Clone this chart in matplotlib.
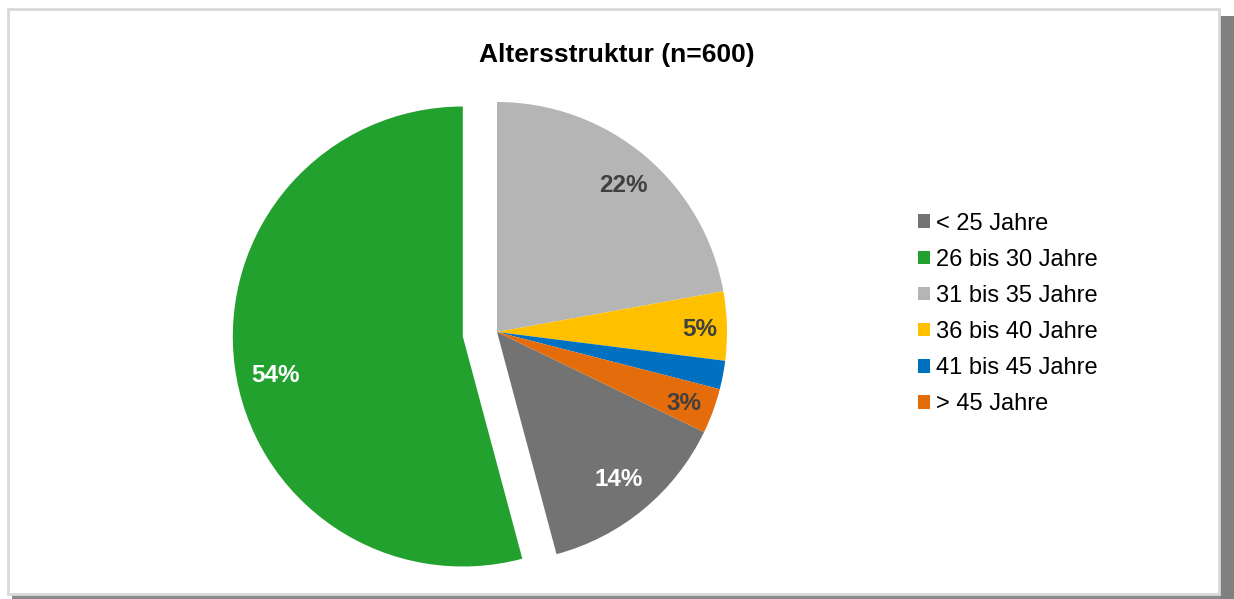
# -*- coding: utf-8 -*-
# Altersstruktur (n=600) - Kreisdiagramm

import numpy as np
import matplotlib.pyplot as plt
from matplotlib.patches import Rectangle, Patch

plt.rcParams['font.family'] = ['Liberation Sans', 'DejaVu Sans']

# Daten (Anzahl Personen, n=600)
labels = ["< 25 Jahre", "26 bis 30 Jahre", "31 bis 35 Jahre",
          "36 bis 40 Jahre", "41 bis 45 Jahre", "> 45 Jahre"]
counts = [82, 325, 133, 29, 12, 19]
colors = ["#737373", "#23A12F", "#B5B5B5", "#FFC000", "#0070C0", "#E46C0A"]
explode = [0, 0.15, 0, 0, 0, 0]

# Beschriftung: Textfarbe, Abstand vom Mittelpunkt (Anteil am Radius), Winkelversatz
text_colors = ["white", "white", "#404040", "#404040", None, "#404040"]
label_r = [0.83, 0.83, 0.84, 0.88, 0.0, 0.87]
label_dang = [0, 4.3, -0.8, -0.8, 0, -0.8]

W, H = 1234, 599
fig = plt.figure(figsize=(W / 100, H / 100), dpi=100)

# Rahmen mit Schatten
fig.patches.append(Rectangle((12 / W, 0), 1 - 12 / W, 5 / H, transform=fig.transFigure,
                             facecolor="#8a8a8a", edgecolor="none", zorder=0))
fig.patches.append(Rectangle((1220 / W, 0), 14 / W, 1 - 16 / H, transform=fig.transFigure,
                             facecolor="#808080", edgecolor="none", zorder=0))
fig.patches.append(Rectangle((8 / W, 1 - 594 / H), 1211 / W, 585 / H, transform=fig.transFigure,
                             facecolor="white", edgecolor="#d9d9d9", linewidth=2, zorder=1))

# Achse so, dass Kreismitte bei (497, 332) px, Radius 230 px
ax = fig.add_axes([0, 0, 1, 1])
ax.set_zorder(2)
ax.patch.set_alpha(0)
cx, cy, R = 497, 332, 230

total = sum(counts)
start = 90 + (counts[0] + counts[1]) / total * 360
wedges, _ = ax.pie(counts, colors=colors, explode=explode, startangle=start,
                   counterclock=False, radius=1, center=(0, 0), frame=True,
                   wedgeprops=dict(linewidth=0))
ax.set_xlim(-cx / R, (W - cx) / R)
ax.set_ylim(-(H - cy) / R, cy / R)
ax.set_aspect("auto")
ax.axis("off")

for w, c, tc, r, da in zip(wedges, counts, text_colors, label_r, label_dang):
    if tc is None:
        continue
    ang = np.deg2rad((w.theta1 + w.theta2) / 2 + da)
    x0, y0 = w.center
    ax.text(x0 + r * np.cos(ang), y0 + r * np.sin(ang), f"{round(c / total * 100)}%",
            ha="center", va="center", color=tc, fontsize=17.5, fontweight="bold")

fig.text(617 / W, 1 - 55 / H, "Altersstruktur (n=600)", ha="center", va="center",
         fontsize=19, fontweight="bold", color="black")

handles = [Patch(facecolor=c, edgecolor="none") for c in colors]
leg = fig.legend(handles, labels, loc="center left", bbox_to_anchor=(918 / W, 1 - 314 / H),
                 frameon=False, fontsize=17, handlelength=0.5, handleheight=0.5,
                 handletextpad=0.27, labelspacing=0.6, borderaxespad=0, borderpad=0)
for t in leg.get_texts():
    t.set_color("black")

fig.savefig("out.png", dpi=100)
